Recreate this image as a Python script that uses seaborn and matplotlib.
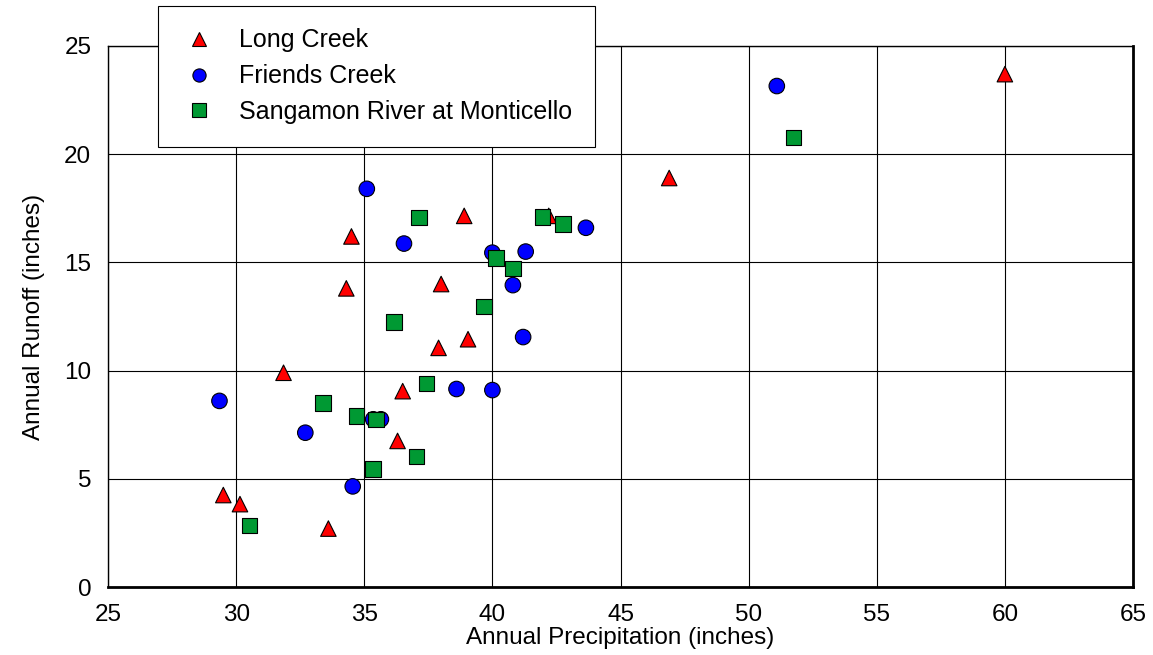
import pandas as pd
import seaborn as sns
import matplotlib.pyplot as plt

# データ
sites = ["Long Creek", "Friends Creek", "Sangamon River at Monticello"]

long_precip = [60.0, 46.9, 38.9, 42.2, 34.5, 34.3, 38.0, 37.9, 39.05, 31.85, 36.5, 36.3, 29.5, 30.15, 33.6]
long_runoff = [23.7, 18.9, 17.15, 17.15, 16.2, 13.8, 14.0, 11.05, 11.45, 9.9, 9.05, 6.75, 4.25, 3.83, 2.7]

friends_precip = [51.1, 35.1, 36.55, 40.0, 41.3, 43.65, 40.8, 41.2, 29.35, 38.6, 40.0, 32.7, 35.35, 35.65, 34.55]
friends_runoff = [23.15, 18.4, 15.87, 15.45, 15.5, 16.6, 13.95, 11.55, 8.6, 9.15, 9.1, 7.13, 7.75, 7.75, 4.65]

sangamon_precip = [51.75, 37.13, 41.95, 42.75, 40.15, 40.8, 39.67, 36.17, 37.43, 33.38, 34.7, 35.45, 37.03, 35.35, 30.52]
sangamon_runoff = [20.77, 17.08, 17.1, 16.77, 15.2, 14.72, 12.97, 12.24, 9.41, 8.5, 7.9, 7.73, 6.03, 5.45, 2.85]

x_ticks = [25, 30, 35, 40, 45, 50, 55, 60, 65]
y_ticks = [0, 5, 10, 15, 20, 25]

df = pd.concat([
    pd.DataFrame({"precip": long_precip, "runoff": long_runoff, "site": sites[0]}),
    pd.DataFrame({"precip": friends_precip, "runoff": friends_runoff, "site": sites[1]}),
    pd.DataFrame({"precip": sangamon_precip, "runoff": sangamon_runoff, "site": sites[2]}),
], ignore_index=True)

sns.set_style("white")
plt.rcParams["font.family"] = ["Liberation Sans", "DejaVu Sans"]
plt.rcParams["text.color"] = "black"
plt.rcParams["axes.labelcolor"] = "black"
plt.rcParams["xtick.color"] = "black"
plt.rcParams["ytick.color"] = "black"

fig = plt.figure(figsize=(11.53, 6.55), dpi=100)
ax = fig.add_axes([108 / 1153, 1 - 587 / 655, 1025 / 1153, 541 / 655])

palette = {sites[0]: "#ff0000", sites[1]: "#0000ff", sites[2]: "#009933"}
markers = {sites[0]: "^", sites[1]: "o", sites[2]: "s"}

sns.scatterplot(
    data=df, x="precip", y="runoff",
    hue="site", style="site",
    palette=palette, markers=markers,
    s=125, edgecolor="black", linewidth=0.8,
    ax=ax, zorder=3,
)

ax.set_xlim(25, 65)
ax.set_ylim(0, 25)
ax.set_xticks(x_ticks)
ax.set_yticks(y_ticks)
ax.grid(True, color="black", linewidth=0.8)
ax.set_axisbelow(True)
ax.tick_params(length=0, labelsize=17.5, pad=12)
ax.tick_params(axis="x", pad=12)
for side in ["top", "left"]:
    ax.spines[side].set_color("black")
    ax.spines[side].set_linewidth(1.0)
for side in ["bottom", "right"]:
    ax.spines[side].set_color("black")
    ax.spines[side].set_linewidth(2.0)

ax.set_xlabel("Annual Precipitation (inches)", fontsize=17.5, labelpad=1)
ax.set_ylabel("Annual Runoff (inches)", fontsize=17.5, labelpad=14)

# 凡例（軸の上にはみ出す白い箱）
handles, labels = ax.get_legend_handles_labels()
leg = ax.legend(
    handles, labels,
    loc="upper left",
    bbox_to_anchor=(158 / 1153, 1 - 6 / 655),
    bbox_transform=fig.transFigure,
    fontsize=18,
    frameon=True, fancybox=False, framealpha=1,
    edgecolor="black",
    borderpad=0.9, labelspacing=0.47,
    handlelength=1.5, handletextpad=0.85, borderaxespad=0,
    markerscale=0.85,
)
leg.get_frame().set_linewidth(0.8)
leg.set_zorder(10)

fig.savefig("out.png", dpi=100)
